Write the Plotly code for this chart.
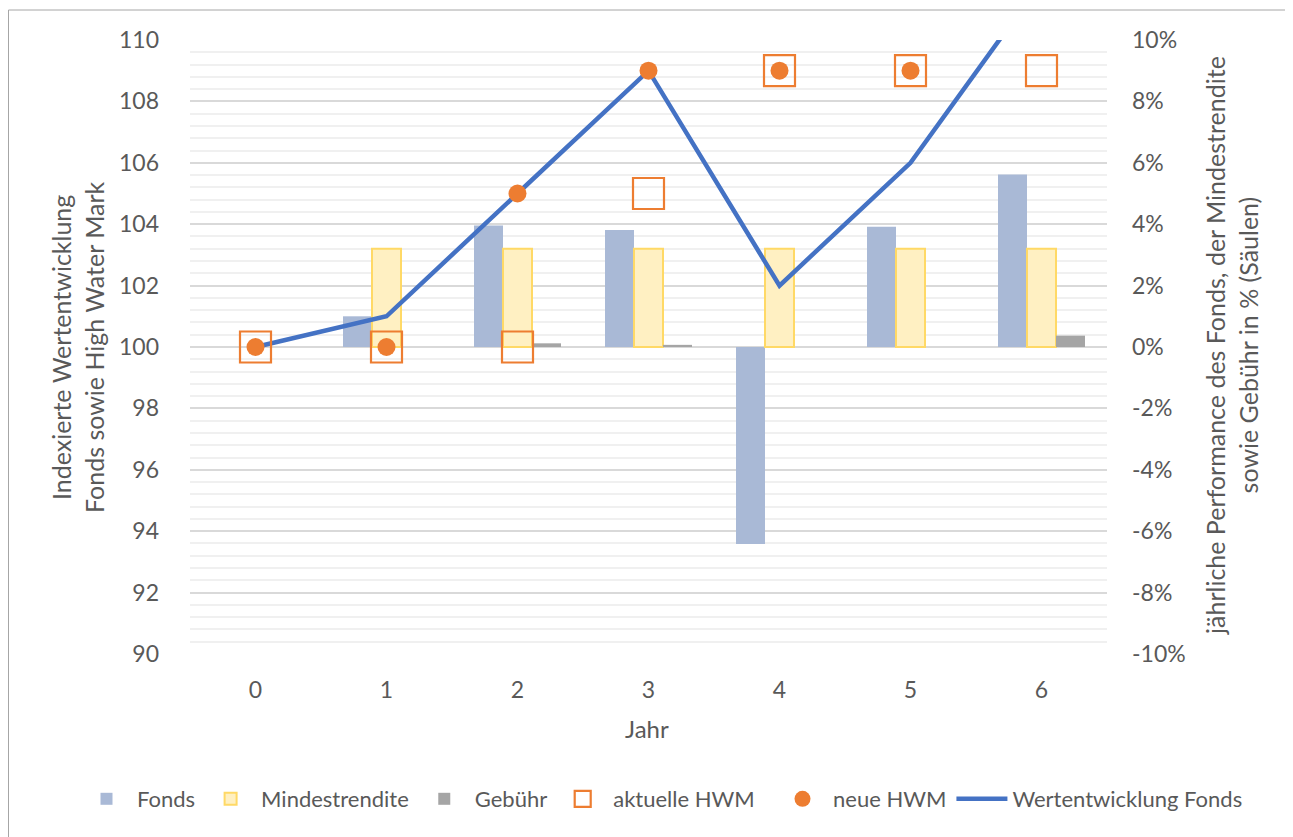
import plotly.graph_objects as go

years = [0, 1, 2, 3, 4, 5, 6]
fonds_pct = [None, 1.0, 3.96, 3.81, -6.42, 3.92, 5.62]
mindest_pct = [None, 3.2, 3.2, 3.2, 3.2, 3.2, 3.2]
gebuehr_pct = [None, 0.0, 0.12, 0.07, 0.0, 0.0, 0.37]
aktuelle_hwm = [100, 100, 100, 105, 109, 109, 109]
neue_hwm = [100, 100, 105, 109, 109, 109, None]
wertentwicklung = [100, 101, 105, 109, 102, 106, 111.9]

left_ticks = [90, 92, 94, 96, 98, 100, 102, 104, 106, 108, 110]
right_tickvals = [-10, -8, -6, -4, -2, 0, 2, 4, 6, 8, 10]
right_ticktext = ["-10%", "-8%", "-6%", "-4%", "-2%", "0%", "2%", "4%", "6%", "8%", "10%"]

FONT = "Lato"
TXT = "#595959"
FT = 23   # tick labels
FA = 25   # y axis titles
FX = 24   # x axis title
FL = 22   # legend

fig = go.Figure()
fig.add_trace(go.Bar(x=years, y=fonds_pct, name="Fonds", yaxis="y", legend="legend",
                     marker=dict(color="#a9b9d6", line=dict(width=0))))
fig.add_trace(go.Bar(x=years, y=mindest_pct, name="Mindestrendite", yaxis="y", legend="legend",
                     marker=dict(color="#fff0c2", line=dict(color="#ffd966", width=2))))
fig.add_trace(go.Bar(x=years, y=gebuehr_pct, name="Gebühr", yaxis="y", legend="legend",
                     marker=dict(color="#a5a5a5", line=dict(width=0))))
fig.add_trace(go.Scatter(x=years, y=wertentwicklung, name="Wertentwicklung Fonds", yaxis="y2",
                         mode="lines", line=dict(color="#4472c4", width=4.5), showlegend=False))
fig.add_trace(go.Scatter(x=years, y=aktuelle_hwm, name="aktuelle HWM", yaxis="y2", legend="legend",
                         mode="markers",
                         marker=dict(symbol="square-open", size=31, color="#ed7d31",
                                     line=dict(width=2.2, color="#ed7d31"))))
fig.add_trace(go.Scatter(x=years, y=neue_hwm, name="neue HWM", yaxis="y2", legend="legend2",
                         mode="markers",
                         marker=dict(symbol="circle", size=18, color="#ed7d31")))
# legend entry for the line (shown last in the legend)
fig.add_trace(go.Scatter(x=[None], y=[None], name="Wertentwicklung Fonds", yaxis="y2",
                         legend="legend2", mode="lines",
                         line=dict(color="#4472c4", width=4.5)))

# page offset of the figure div (body margin)
OFF = 8
W, H = 1293 - OFF, 837 - OFF
PL, PR, PT, PB = 190, 1107, 40, 654  # plot area in page coordinates
ml, mt = PL - OFF, PT - OFF
mr = W + OFF - PR
mb = H + OFF - PB
pw, ph = PR - PL, PB - PT

def px(x):
    return (x - PL) / pw

def py(y):
    return (PB - y) / ph

leg_common = dict(orientation="h", yanchor="middle", y=py(799), xanchor="left",
                  font=dict(size=FL, color=TXT), traceorder="normal", itemwidth=51,
                  bgcolor="rgba(0,0,0,0)")

fig.update_layout(
    width=W, height=H,
    margin=dict(l=ml, r=mr, t=mt, b=mb),
    paper_bgcolor="white", plot_bgcolor="white",
    font=dict(family=FONT, color=TXT, size=FT),
    barmode="group", bargap=0.336, bargroupgap=0,
    xaxis=dict(range=[-0.5, 6.5], tickvals=years, ticktext=[str(y) for y in years],
               showgrid=False, zeroline=False, showline=False, ticks="",
               ticklabelstandoff=20,
               tickfont=dict(size=FT, color=TXT)),
    yaxis=dict(side="right", range=[-10, 10], tickvals=right_tickvals, ticktext=right_ticktext,
               showgrid=True, gridcolor="#d9d9d9", gridwidth=1.5, zeroline=False,
               tickfont=dict(size=FT, color=TXT), ticks="", ticklabelstandoff=24,
               minor=dict(dtick=0.4, showgrid=True, gridcolor="#f0f0f0", gridwidth=1.5, tick0=0)),
    yaxis2=dict(side="left", overlaying="y", range=[90, 110], tickvals=left_ticks,
                ticktext=[str(t) for t in left_ticks], showgrid=False, zeroline=False,
                tickfont=dict(size=FT, color=TXT), ticks="", ticklabelstandoff=30),
    legend=dict(x=px(76), **leg_common),
    legend2=dict(x=px(772), **leg_common),
    showlegend=True,
)

fig.add_annotation(text="Jahr", xref="paper", yref="paper", x=px(647), y=py(728),
                   xanchor="center", yanchor="middle", showarrow=False,
                   font=dict(size=FX, color=TXT))
fig.add_annotation(text="Indexierte Wertentwicklung<br>Fonds sowie High Water Mark",
                   xref="paper", yref="paper", x=px(77), y=py(347), xanchor="center",
                   yanchor="middle", textangle=-90, showarrow=False,
                   font=dict(size=FA, color=TXT))
fig.add_annotation(text="jährliche Performance des Fonds, der Mindestrendite<br>sowie Gebühr in % (Säulen)",
                   xref="paper", yref="paper", x=px(1231), y=py(346), xanchor="center",
                   yanchor="middle", textangle=-90, showarrow=False,
                   font=dict(size=FA, color=TXT))

fig.add_shape(type="rect", xref="paper", yref="paper",
              x0=px(8.5), x1=px(1290.5), y0=py(845), y1=py(10),
              line=dict(color="#a6a6a6", width=1), fillcolor="rgba(0,0,0,0)", layer="below")

fig.write_html("out.html")
